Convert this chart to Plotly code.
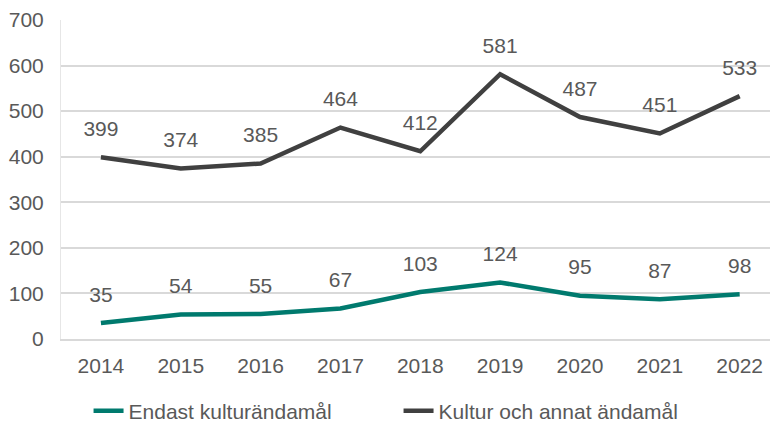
import plotly.graph_objects as go

years = ["2014", "2015", "2016", "2017", "2018", "2019", "2020", "2021", "2022"]
endast_kultur = [35, 54, 55, 67, 103, 124, 95, 87, 98]
kultur_och_annat = [399, 374, 385, 464, 412, 581, 487, 451, 533]
y_ticks = [0, 100, 200, 300, 400, 500, 600, 700]

TEAL = "#007A6E"
DARK = "#404040"
TEXT = "#595959"
FS = 21

fig = go.Figure()

# invisible markers push the value labels up above the line
for name, vals, col in [("Endast kulturändamål", endast_kultur, TEAL),
                        ("Kultur och annat ändamål", kultur_och_annat, DARK)]:
    fig.add_trace(go.Scatter(
        x=years, y=vals, mode="lines+markers+text", name=name,
        line=dict(color=col, width=4.5),
        marker=dict(size=24, color="rgba(0,0,0,0)"),
        text=[str(v) for v in vals], textposition="top center",
        textfont=dict(size=FS, color=TEXT),
    ))

fig.update_layout(
    width=770, height=422,
    margin=dict(l=61, r=0, t=20, b=83, autoexpand=False),
    plot_bgcolor="white", paper_bgcolor="white",
    font=dict(family="Liberation Sans, Arial, sans-serif", size=FS, color=TEXT),
    showlegend=True,
    legend=dict(orientation="h", xref="container", x=0.115, xanchor="left",
                yref="container", y=0.026, yanchor="middle",
                entrywidth=265, font=dict(size=FS, color=TEXT)),
)
fig.update_xaxes(
    type="category", range=[-0.5, 8.38], showgrid=False, automargin=False,
    showline=True, linecolor="#d9d9d9", linewidth=1.5, ticks="",
    ticklabelstandoff=7, tickfont=dict(size=FS, color=TEXT),
)
fig.update_yaxes(
    range=[0, 700], tickvals=y_ticks, showgrid=True, gridcolor="#d9d9d9",
    gridwidth=1.5, zeroline=False, showline=True, linecolor="#e6e6e6",
    automargin=False, ticks="", ticklabelstandoff=12,
    tickfont=dict(size=FS, color=TEXT),
)

fig.write_html("out.html", config={"displayModeBar": False},
               post_script="document.body.style.margin='0';")
